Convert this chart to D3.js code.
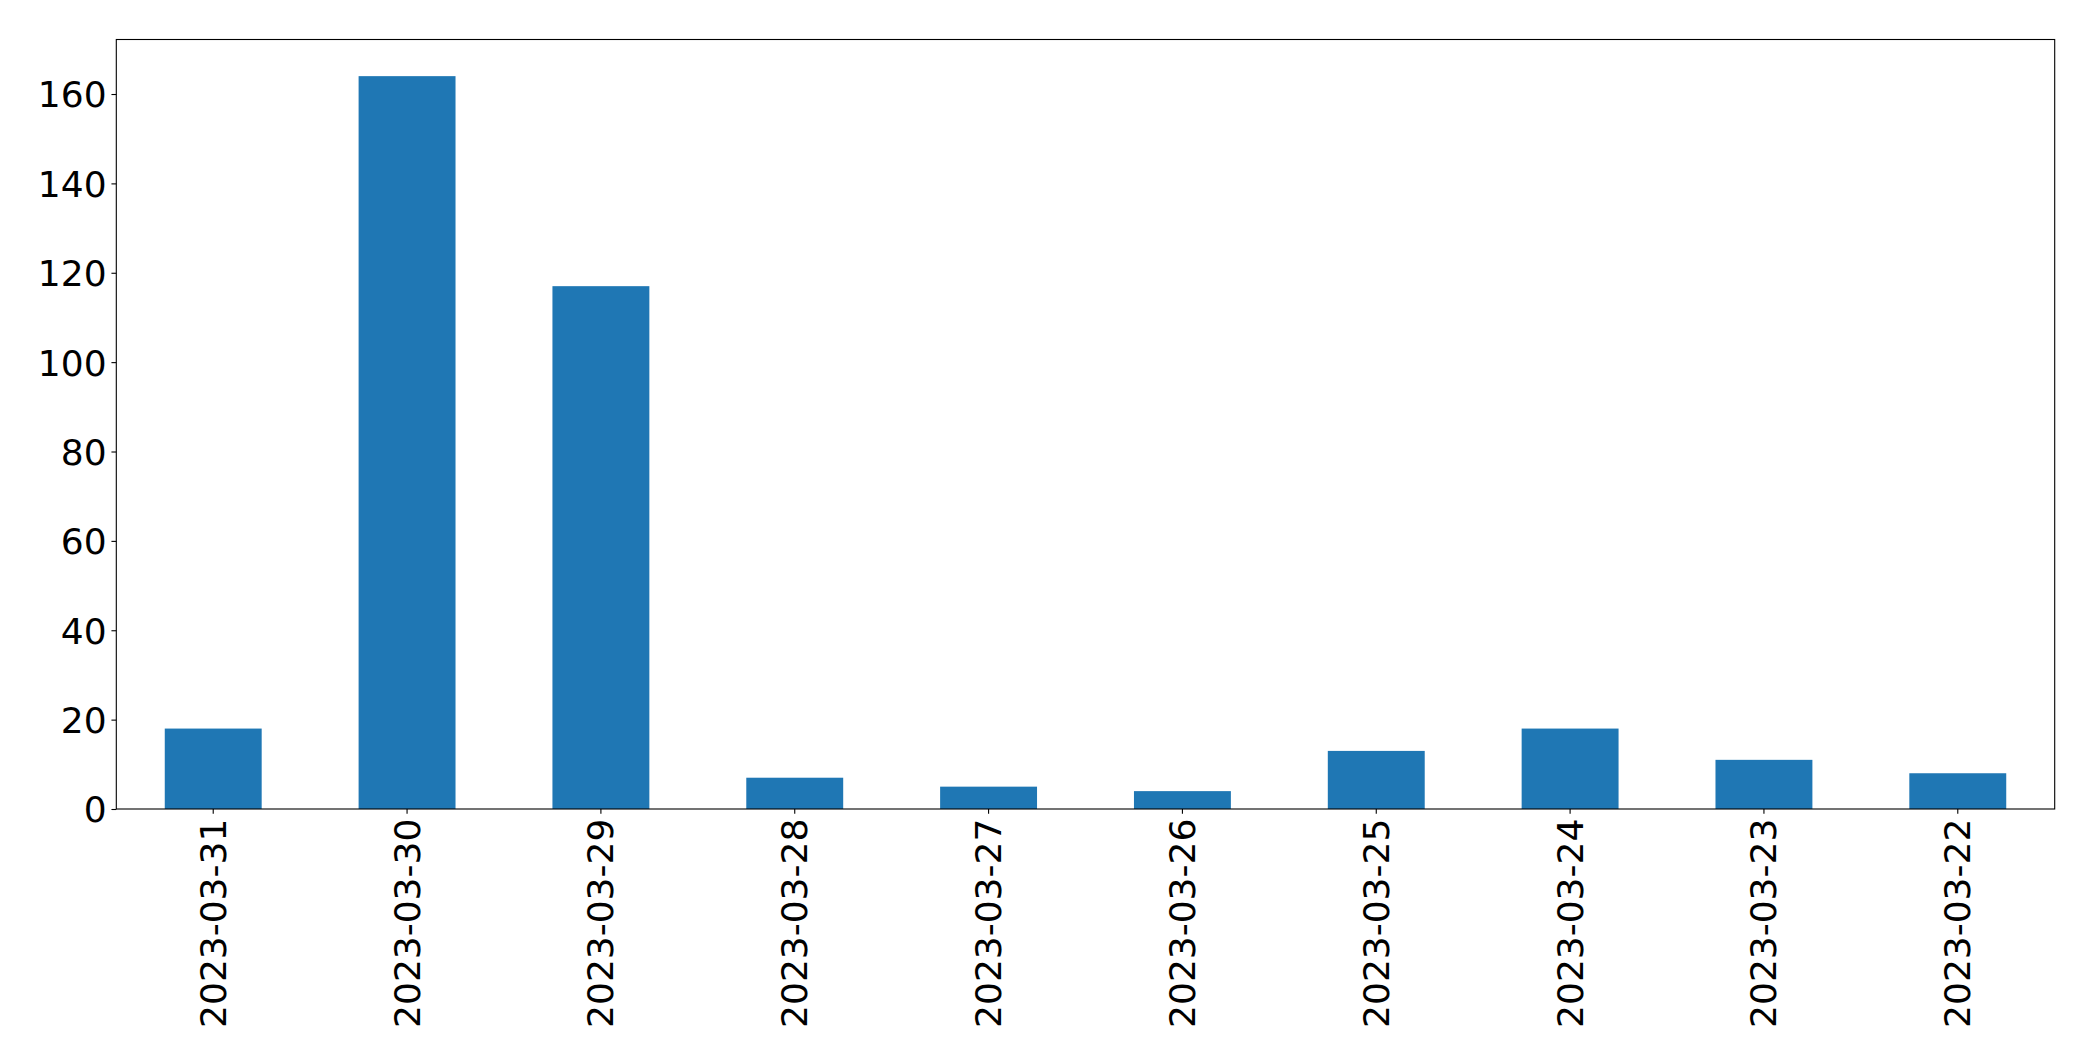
<!DOCTYPE html>
<html>
<head>
<meta charset="utf-8">
<script src="https://cdn.jsdelivr.net/npm/d3@7"></script>
<style>
  html, body { margin: 0; padding: 0; background: #fff; }
  svg text { font-family: "DejaVu Sans", sans-serif; }
</style>
</head>
<body>
<svg id="chart" width="2093" height="1061"></svg>
<script>
const categories = ["2023-03-31","2023-03-30","2023-03-29","2023-03-28","2023-03-27","2023-03-26","2023-03-25","2023-03-24","2023-03-23","2023-03-22"];
const values = [18, 164, 117, 7, 5, 4, 13, 18, 11, 8];
const yTicks = [0, 20, 40, 60, 80, 100, 120, 140, 160];

const W = 2093, H = 1061;
const m = { left: 116.3, right: W - 2054.7, top: 39.5, bottom: H - 809 };
const iw = W - m.left - m.right, ih = H - m.top - m.bottom;

const svg = d3.select("#chart");
const g = svg.append("g").attr("transform", `translate(${m.left},${m.top})`);

const x = d3.scaleBand().domain(categories).range([0, iw]).paddingInner(0.5).paddingOuter(0.25);
const y = d3.scaleLinear().domain([0, d3.max(values) * 1.05]).range([ih, 0]);

g.selectAll("rect.bar").data(values).join("rect")
  .attr("class", "bar")
  .attr("x", (d, i) => x(categories[i]))
  .attr("width", x.bandwidth())
  .attr("y", d => y(d))
  .attr("height", d => y(0) - y(d))
  .attr("fill", "#1f77b4");

const fs = 36;
const yAxis = d3.axisLeft(y).tickValues(yTicks).tickSize(4.86).tickPadding(4.86).tickFormat(d3.format("d"));
const ya = g.append("g").call(yAxis);
ya.select(".domain").remove();
ya.selectAll("line").attr("stroke", "#000").attr("stroke-width", 1.1);
ya.selectAll("text").attr("font-size", fs).attr("fill", "#000").attr("dy", "0.36em");

const xAxis = d3.axisBottom(x).tickSize(4.86).tickPadding(0);
const xa = g.append("g").attr("transform", `translate(0,${ih})`).call(xAxis);
xa.select(".domain").remove();
xa.selectAll("line").attr("stroke", "#000").attr("stroke-width", 1.1);
xa.selectAll("text")
  .attr("font-size", fs).attr("fill", "#000")
  .attr("text-anchor", "end")
  .attr("dy", null)
  .attr("y", null)
  .attr("dominant-baseline", "central")
  .attr("transform", "translate(0,9.7) rotate(-90)");

g.append("rect").attr("x", 0).attr("y", 0).attr("width", iw).attr("height", ih)
  .attr("fill", "none").attr("stroke", "#000").attr("stroke-width", 1.1);
</script>
</body>
</html>
